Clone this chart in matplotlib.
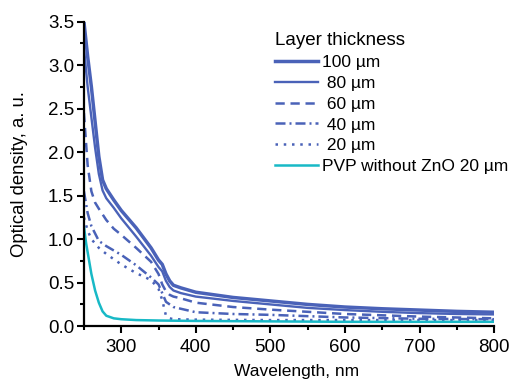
"""
Optical density spectra of ZnO/PVP layers of different thickness.
"""

import matplotlib.pyplot as plt
from matplotlib.ticker import MultipleLocator

plt.rcParams["font.family"] = ["Liberation Sans", "DejaVu Sans"]
plt.rcParams["font.size"] = 12

# --- Data --------------------------------------------------------------------
wl_100 = [250, 255, 260, 265, 270, 275, 280, 290, 300, 320, 340, 350, 355, 360,
          365, 370, 380, 400, 450, 500, 550, 600, 650, 700, 750, 800]
od_100 = [3.5, 3.1, 2.75, 2.35, 1.95, 1.68, 1.58, 1.45, 1.33, 1.13, 0.90, 0.76,
          0.71, 0.60, 0.52, 0.47, 0.44, 0.39, 0.33, 0.29, 0.25, 0.22, 0.20,
          0.185, 0.17, 0.16]

wl_80 = wl_100
od_80 = [3.2, 2.75, 2.4, 2.05, 1.75, 1.56, 1.47, 1.36, 1.24, 1.03, 0.81, 0.68,
         0.63, 0.52, 0.45, 0.41, 0.38, 0.34, 0.29, 0.25, 0.21, 0.185, 0.165,
         0.15, 0.14, 0.135]

wl_60 = [250, 255, 260, 265, 270, 280, 290, 300, 320, 340, 350, 355, 360, 365,
         370, 380, 400, 450, 500, 600, 700, 800]
od_60 = [2.45, 1.85, 1.55, 1.42, 1.35, 1.22, 1.12, 1.05, 0.90, 0.74, 0.60, 0.48,
         0.40, 0.36, 0.34, 0.32, 0.27, 0.22, 0.19, 0.14, 0.11, 0.09]

wl_40 = [250, 255, 260, 270, 280, 290, 300, 320, 340, 350, 355, 360, 370, 380,
         400, 450, 500, 600, 700, 800]
od_40 = [1.55, 1.3, 1.15, 0.98, 0.92, 0.87, 0.82, 0.70, 0.56, 0.48, 0.38, 0.28,
         0.22, 0.20, 0.16, 0.14, 0.13, 0.10, 0.085, 0.08]

wl_20 = [250, 255, 260, 270, 280, 290, 300, 320, 340, 350, 355, 360, 365, 370,
         400, 500, 600, 700, 800]
od_20 = [1.25, 1.1, 1.0, 0.90, 0.83, 0.77, 0.71, 0.61, 0.53, 0.43, 0.30, 0.12,
         0.09, 0.08, 0.075, 0.07, 0.07, 0.07, 0.07]

wl_pvp = [250, 253, 256, 260, 265, 270, 275, 280, 290, 300, 320, 350, 400, 500,
          600, 700, 800]
od_pvp = [1.15, 0.95, 0.80, 0.60, 0.41, 0.27, 0.17, 0.12, 0.09, 0.08, 0.07,
          0.065, 0.06, 0.055, 0.05, 0.05, 0.05]

BLUE = "#4a62b8"
CYAN = "#18b9c6"

# --- Plot --------------------------------------------------------------------
fig = plt.figure(figsize=(5.18, 3.86), dpi=100)
ax = fig.add_axes([0.162, 0.155, 0.792, 0.789])

ax.plot(wl_100, od_100, color=BLUE, lw=2.5, label="100 µm")
ax.plot(wl_80, od_80, color=BLUE, lw=1.7, label=" 80 µm")
ax.plot(wl_60, od_60, color=BLUE, lw=1.8, dashes=(3.7, 2.3), label=" 60 µm")
ax.plot(wl_40, od_40, color=BLUE, lw=1.8, dashes=(4.0, 1.6, 0.8, 1.6),
        label=" 40 µm")
ax.plot(wl_20, od_20, color=BLUE, lw=1.8, dashes=(1.0, 2.3), label=" 20 µm")
ax.plot(wl_pvp, od_pvp, color=CYAN, lw=1.8, label="PVP without ZnO 20 µm")

ax.set_xlim(250, 800)
ax.set_ylim(0, 3.5)
ax.xaxis.set_major_locator(MultipleLocator(100))
ax.xaxis.set_minor_locator(MultipleLocator(50))
ax.yaxis.set_major_locator(MultipleLocator(0.5))
ax.yaxis.set_minor_locator(MultipleLocator(0.25))
ax.set_xticks([300, 400, 500, 600, 700, 800])
ax.yaxis.set_major_formatter(lambda v, p: f"{v:.1f}")

for side in ("top", "right"):
    ax.spines[side].set_visible(False)
for side in ("left", "bottom"):
    ax.spines[side].set_linewidth(1.6)
ax.tick_params(which="major", direction="out", length=5, width=1.5,
               labelsize=13.5, pad=2)
ax.tick_params(axis="x", which="major", pad=4)
ax.tick_params(which="minor", direction="out", length=3, width=1.5)

ax.set_xlabel("Wavelength, nm", fontsize=12.5)
# label sits a bit right of the axes centre in the original
ax.xaxis.set_label_coords((297 - 84) / 410, -0.125)
ax.set_ylabel("Optical density, a. u.", fontsize=13.3, labelpad=14)

leg = ax.legend(loc="upper left", bbox_to_anchor=(275 / 518, 1 - 32 / 386),
                bbox_transform=fig.transFigure, frameon=False,
                title="Layer thickness", title_fontsize=13.5, fontsize=12.5,
                handlelength=2.5, handletextpad=0.2, labelspacing=0.33,
                borderpad=0, borderaxespad=0, alignment="left")

fig.savefig("out.png", dpi=100)
